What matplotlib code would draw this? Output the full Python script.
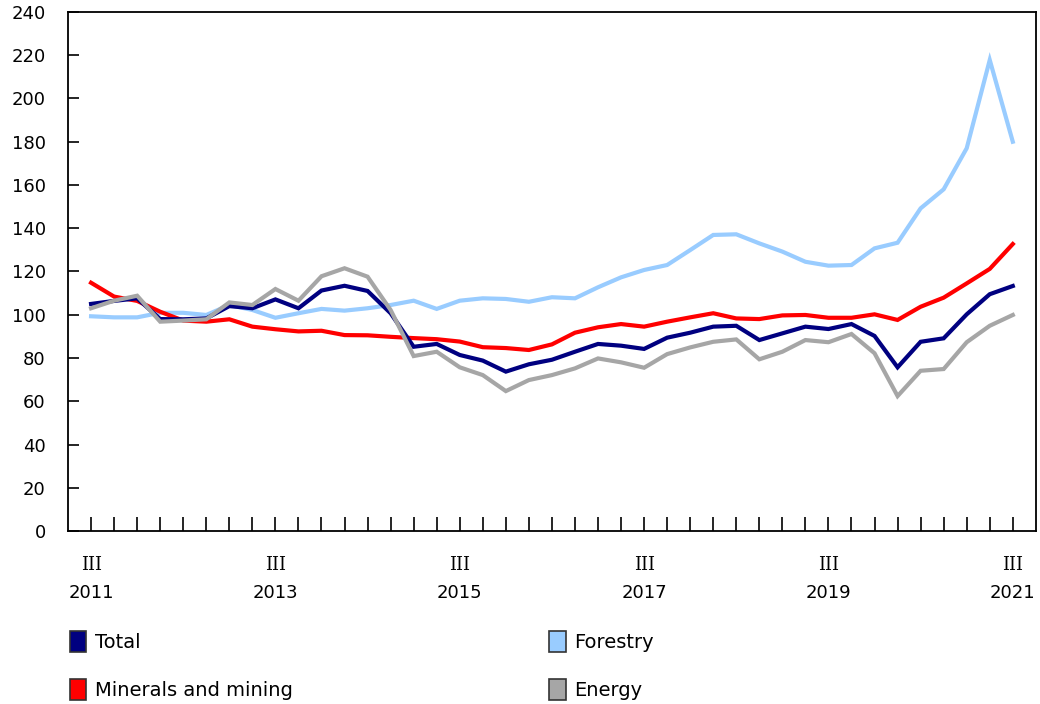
import matplotlib
matplotlib.use("Agg")
import matplotlib.pyplot as plt
from matplotlib.patches import Patch
from matplotlib.transforms import blended_transform_factory

plt.rcParams['font.family'] = ['DejaVu Sans']

quarters = list(range(41))  # 2011 Q3 .. 2021 Q3
tick_labels_q = ["III", "III", "III", "III", "III", "III"]
tick_years = ["2011", "2013", "2015", "2017", "2019", "2021"]

total = [105.0, 106.4, 107.6, 98.0, 97.9, 98.3, 104.0, 103.0, 107.1, 103.0,
         111.2, 113.4, 111.0, 100.7, 85.2, 86.5, 81.4, 78.8, 73.7, 77.1,
         79.2, 82.9, 86.5, 85.7, 84.2, 89.4, 91.7, 94.5, 94.9, 88.3,
         91.4, 94.5, 93.4, 95.7, 90.2, 75.7, 87.5, 89.1, 100.2, 109.5, 113.3]

minerals = [114.8, 108.4, 106.4, 101.4, 97.3, 96.8, 97.9, 94.5, 93.3, 92.3,
            92.6, 90.6, 90.5, 89.8, 89.2, 88.7, 87.6, 85.0, 84.6, 83.7,
            86.3, 91.7, 94.2, 95.7, 94.5, 96.8, 98.8, 100.7, 98.3, 98.0,
            99.7, 99.9, 98.6, 98.6, 100.2, 97.6, 103.7, 107.9, 114.5, 121.2, 132.7]

forestry = [99.3, 98.8, 98.8, 100.9, 100.9, 99.9, 104.5, 102.2, 98.6, 100.7,
            102.7, 101.9, 103.0, 104.5, 106.5, 102.7, 106.5, 107.6, 107.3, 106.0,
            108.1, 107.6, 112.7, 117.3, 120.7, 123.0, 129.9, 136.9, 137.2, 133.0,
            129.2, 124.5, 122.7, 123.0, 130.7, 133.3, 149.2, 158.0, 177.0, 217.8, 180.0]

energy = [103.0, 106.5, 108.8, 96.8, 97.3, 97.9, 105.7, 104.5, 111.9, 106.5,
          117.8, 121.5, 117.6, 102.2, 80.9, 82.9, 75.7, 72.1, 64.7, 69.8,
          72.1, 75.2, 79.8, 78.0, 75.5, 81.8, 84.9, 87.5, 88.6, 79.4,
          82.9, 88.3, 87.3, 91.1, 82.2, 62.4, 74.1, 74.9, 87.3, 94.9, 99.9]

series_names = ["Total", "Minerals and mining", "Forestry", "Energy"]
colors = {"Total": "#000080", "Minerals and mining": "#FF0000",
          "Forestry": "#99CCFF", "Energy": "#A6A6A6"}

fig = plt.figure(figsize=(10.4, 7.04), dpi=100)
ax = fig.add_axes([0.0654, 0.2457, 0.9306, 0.7373])

data = {"Total": total, "Minerals and mining": minerals,
        "Forestry": forestry, "Energy": energy}
for name in ["Forestry", "Minerals and mining", "Total", "Energy"]:
    ax.plot(quarters, data[name], color=colors[name], lw=3.0,
            solid_joinstyle='miter', zorder=3)

ax.set_xlim(-1, 41)
ax.set_ylim(0, 240)
ax.set_yticks(range(0, 241, 20))
ax.tick_params(axis='y', direction='in', length=8, width=1.2, labelsize=13,
               pad=16, colors='black')
ax.set_xticks(quarters, minor=True)
major = quarters[::8]
ax.set_xticks(major)
ax.set_xticklabels(tick_labels_q, fontfamily='DejaVu Serif', fontsize=13)
ax.tick_params(axis='x', which='both', direction='in', length=10, width=1.2,
               pad=18)
trans = blended_transform_factory(ax.transData, ax.transAxes)
for q, yr in zip(major, tick_years):
    ax.text(q, -0.120, yr, transform=trans, ha='center', va='center',
            fontsize=13)

for s in ax.spines.values():
    s.set_linewidth(1.3)

handles = [Patch(facecolor=colors[n], edgecolor='#333333', linewidth=1.2)
           for n in series_names]
leg = fig.legend(handles, series_names, loc='upper left',
                 bbox_to_anchor=(0.050, 0.128), ncol=2, frameon=False,
                 fontsize=14, handlelength=0.85, handleheight=1.25,
                 handletextpad=0.45, columnspacing=13.2, labelspacing=1.4)

fig.savefig("out.png", dpi=100)
